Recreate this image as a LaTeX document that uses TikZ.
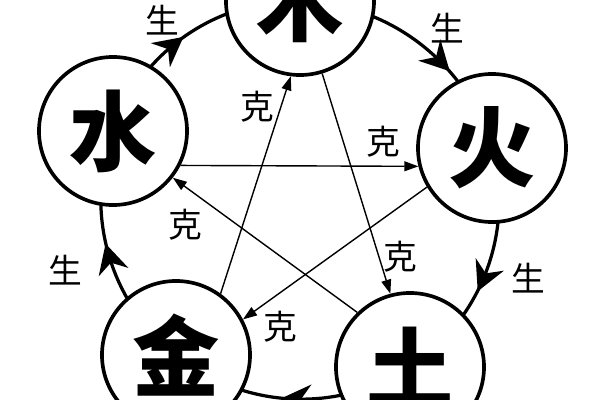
\documentclass[tikz,border=0pt]{standalone}
\usepackage{fontspec}
\newfontfamily\cjk{Noto Sans CJK SC}
\newfontfamily\cjkblack{Noto Sans CJK SC Black}
\usetikzlibrary{arrows.meta,decorations.markings,backgrounds}

\begin{document}
\begin{tikzpicture}[x=0.025cm,y=-0.025cm,
  element/.style={draw,circle,fill=white,line width=2.6pt,minimum size=3.7cm,inner sep=0pt,font=\cjkblack\fontsize{62}{62}\selectfont},
  ke/.style={line width=1pt,-{Triangle[length=10pt,width=7pt]}},
  sheng/.style={line width=2.3pt,postaction=decorate,decoration={markings,mark=at position #1 with {\fill (7pt,0pt) -- (-14pt,11pt) -- (-7pt,0pt) -- (-14pt,-11pt) -- cycle;}}},
  sheng/.default=0.5,
  word/.style={font=\cjk\fontsize{24}{24}\selectfont}]
\useasboundingbox (0,0) rectangle (600,400);

\node[element] (mu) at (300,1) {木};
\node[element] (shui) at (113,131) {水};
\node[element] (huo) at (492,148) {火};
\node[element] (jin) at (176,355) {金};
\node[element] (tu) at (410,367) {土};

\begin{scope}[on background layer]
\draw[sheng=.45] (shui.center) to[bend left=36,looseness=.94] (mu.center);
\draw[sheng=.62] (mu.center) to[bend left=36,looseness=.94] (huo.center);
\draw[sheng=.55] (huo.center) to[bend left=36,looseness=.94] (tu.center);
\draw[sheng] (tu.center) to[bend left=36,looseness=.94] (jin.center);
\draw[sheng] (jin.center) to[bend left=36,looseness=.94] (shui.center);
\end{scope}

\draw[ke] (mu.-73) -- (tu.105);
\draw[ke] (tu.134) -- (shui.-38);
\draw[ke] (shui.-27) -- (huo.194);
\draw[ke] (huo.211) -- (jin.28);
\draw[ke] (jin.54) -- (mu.-97);

\node[word] (ke1) at (400,257) {克};
\node[word] (ke2) at (185,225) {克};
\node[word] (ke3) at (383,142) {克};
\node[word] (ke4) at (280,327) {克};
\node[word] (ke5) at (257,107) {克};

\node[word] (sheng1) at (162,20) {生};
\node[word] (sheng2) at (447,28) {生};
\node[word] (sheng3) at (528,278) {生};
\node[word] (sheng4) at (65,270) {生};

\end{tikzpicture}
\end{document}
